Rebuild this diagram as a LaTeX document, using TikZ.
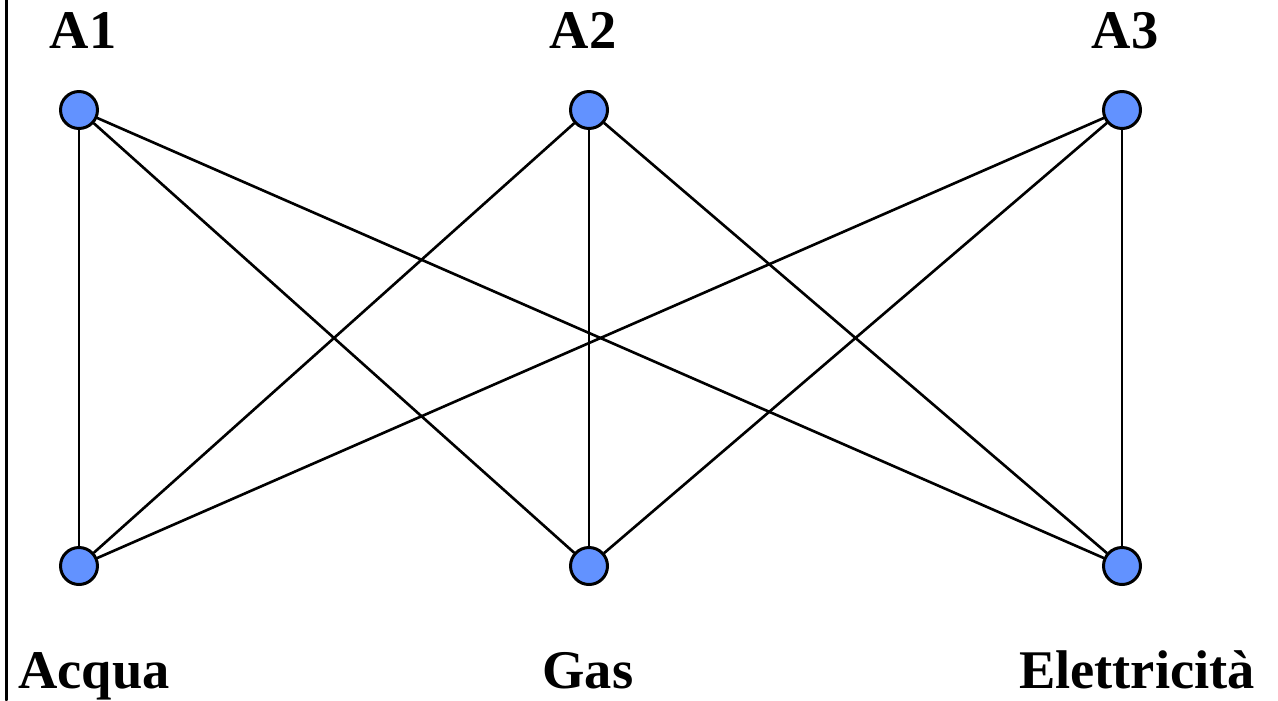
\documentclass[tikz,border=0pt]{standalone}
\usepackage{fontspec}
\setmainfont{Liberation Serif}
\usepackage{tikz}
\usepackage{xcolor}
\definecolor{nodeblue}{RGB}{98,146,255}

\begin{document}
\begin{tikzpicture}[x=0.02cm,y=-0.02cm,line cap=round,
  vtx/.style={circle,draw=black,line width=1.7pt,fill=nodeblue,minimum size=0.74cm,inner sep=0pt},
  lbl/.style={anchor=base,inner sep=0pt,font=\fontsize{31}{37}\selectfont\bfseries},
  edge/.style={line width=1.5pt}]
\useasboundingbox (0,0) rectangle (1278,700);
\draw[line width=1.7pt] (6.5,0) -- (6.5,700);
% top row
\node[vtx] (a1) at (79,110) {};
\node[vtx] (a2) at (589,110) {};
\node[vtx] (a3) at (1122,110) {};
% bottom row
\node[vtx] (acqua) at (79,566) {};
\node[vtx] (gas) at (589,566) {};
\node[vtx] (elet) at (1122,566) {};
% labels
\node[lbl] (la1) at (83,48) {A1};
\node[lbl] (la2) at (583,48) {A2};
\node[lbl] (la3) at (1125,48) {A3};
\node[lbl] (lacqua) at (94,688) {Acqua};
\node[lbl] (lgas) at (588,688) {Gas};
\node[lbl] (lelet) at (1137,688) {Elettricità};
% edges
\foreach \t in {a1,a2,a3}
  \foreach \b in {acqua,gas,elet}
    \draw[edge] (\t) -- (\b);
\end{tikzpicture}
\end{document}
